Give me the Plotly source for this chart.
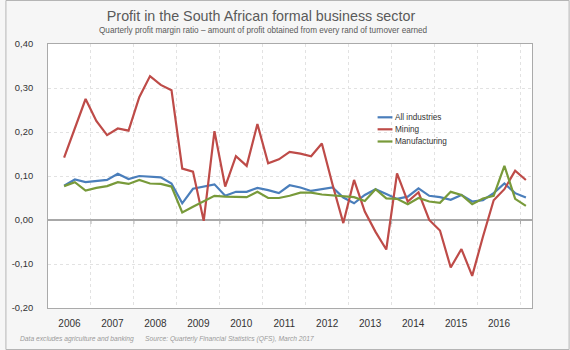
import plotly.graph_objects as go

# ---------------- data ----------------
years = list(range(2006, 2017))
quarters = [f"{y} Q{q}" for y in years for q in range(1, 5)]

all_industries = [0.078, 0.092, 0.086, 0.088, 0.091, 0.105, 0.093, 0.100, 0.098, 0.097, 0.083,
                  0.038, 0.071, 0.076, 0.081, 0.055, 0.064, 0.064, 0.073, 0.068, 0.061, 0.079,
                  0.074, 0.066, 0.070, 0.074, 0.051, 0.038, 0.057, 0.070, 0.059, 0.048, 0.053,
                  0.072, 0.055, 0.052, 0.046, 0.057, 0.042, 0.045, 0.061, 0.083, 0.061, 0.051]
mining = [0.142, 0.208, 0.275, 0.225, 0.193, 0.208, 0.203, 0.279, 0.327, 0.307, 0.295,
          0.117, 0.110, -0.002, 0.202, 0.076, 0.145, 0.123, 0.218, 0.129, 0.138, 0.155,
          0.151, 0.145, 0.174, 0.080, -0.007, 0.091, 0.019, -0.027, -0.067, 0.106, 0.042,
          0.063, 0.000, -0.024, -0.108, -0.066, -0.127, -0.038, 0.045, 0.070, 0.112, 0.091]
manufacturing = [0.077, 0.086, 0.067, 0.073, 0.077, 0.086, 0.082, 0.091, 0.083, 0.082, 0.076,
                 0.017, 0.030, 0.042, 0.055, 0.053, 0.053, 0.052, 0.064, 0.050, 0.050, 0.055,
                 0.062, 0.062, 0.058, 0.056, 0.053, 0.052, 0.043, 0.070, 0.049, 0.048, 0.036,
                 0.050, 0.042, 0.039, 0.064, 0.057, 0.036, 0.049, 0.055, 0.123, 0.048, 0.032]

series_names = ["All industries", "Mining", "Manufacturing"]
series_values = [all_industries, mining, manufacturing]
series_colors = ["#4a7ebb", "#be4b48", "#789a3a"]

y_ticks = [-0.2, -0.1, 0.0, 0.1, 0.2, 0.3, 0.4]
y_tick_labels = ["-0,20", "-0,10", "0,00", "0,10", "0,20", "0,30", "0,40"]

title = "Profit in the South African formal business sector"
subtitle = "Quarterly profit margin ratio \u2013 amount of profit obtained from every rand of turnover earned"
note = "Data excludes agriculture and banking"
source = "Source: Quarterly Financial Statistics (QFS), March 2017"

# ---------------- layout geometry ----------------
W, H = 570, 350
L, R, T, B = 43, 38, 44, 42
pw, ph = W - L - R, H - T - B
year_px = 43.4
x_min = years[0]
x_max = years[0] + pw / year_px

def px_x(p):
    return (p - L) / pw

def px_y(p):
    return 1 - (p - T) / ph

FONT = "Liberation Sans, Arial, sans-serif"

x_pos = [int(q[:4]) + (int(q[-1]) - 1) * 0.25 + 0.375 for q in quarters]

fig = go.Figure()
for name, vals, col in zip(series_names, series_values, series_colors):
    fig.add_trace(go.Scatter(
        x=x_pos, y=vals, name=name, mode="lines",
        line=dict(color=col, width=2.2),
        customdata=quarters,
        hovertemplate="%{customdata}<br>" + name + ": %{y:.3f}<extra></extra>",
        showlegend=False,
    ))

shapes = []
annotations = []

# tick marks on zero line at year boundaries
for yr in years[1:] + [years[-1] + 1]:
    shapes.append(dict(type="line", xref="x", yref="y", x0=yr, x1=yr,
                       ysizemode="pixel", yanchor=0, y0=0, y1=-4,
                       line=dict(color="#aaaaaa", width=1)))

# outer chart border
shapes.append(dict(type="rect", xref="paper", yref="paper",
                   x0=px_x(0.5), x1=px_x(W - 0.5), y0=px_y(H - 0.5), y1=px_y(0.5),
                   line=dict(color="#b5b5b5", width=1), layer="below"))

# manual legend
leg_y = [117.3, 129.3, 141.5]
for name, col, yy in zip(series_names, series_colors, leg_y):
    shapes.append(dict(type="line", xref="paper", yref="paper",
                       x0=px_x(376), x1=px_x(391), y0=px_y(yy), y1=px_y(yy),
                       line=dict(color=col, width=2.2)))
    annotations.append(dict(text=name, xref="paper", yref="paper",
                            x=px_x(391.5), y=px_y(yy), xanchor="left", yanchor="middle",
                            showarrow=False, font=dict(family=FONT, size=8.2, color="#333333")))

# subtitle
annotations.append(dict(text=subtitle, xref="paper", yref="paper",
                        x=px_x(261), y=px_y(30.5), xanchor="center", yanchor="middle",
                        showarrow=False, font=dict(family=FONT, size=8.2, color="#5a5a5a")))
# footer
annotations.append(dict(text="<i>" + note + "</i>", xref="paper", yref="paper",
                        x=px_x(12.5), y=px_y(339), xanchor="left", yanchor="middle",
                        showarrow=False, font=dict(family=FONT, size=6.7, color="#9a9a9a")))
annotations.append(dict(text="<i>" + source + "</i>", xref="paper", yref="paper",
                        x=px_x(138.5), y=px_y(339), xanchor="left", yanchor="middle",
                        showarrow=False, font=dict(family=FONT, size=6.7, color="#9a9a9a")))

fig.update_layout(
    width=W, height=H,
    margin=dict(l=L, r=R, t=T, b=B, pad=0),
    paper_bgcolor="#f6f6f6",
    plot_bgcolor="#ffffff",
    title=dict(text=title, x=261 / W, xref="container", xanchor="center",
               y=1 - 16 / H, yref="container", yanchor="middle",
               font=dict(family=FONT, size=14.3, color="#5a5a5a")),
    shapes=shapes,
    annotations=annotations,
    showlegend=False,
    xaxis=dict(
        range=[x_min, x_max],
        tickmode="array",
        tickvals=[y + 0.5 for y in years],
        ticktext=[str(y) for y in years],
        ticks="", showgrid=False, zeroline=False,
        showline=True, mirror=True, linecolor="#aaaaaa", linewidth=1,
        tickfont=dict(family=FONT, size=10, color="#333333"),
        ticklabelstandoff=6,
        minor=dict(tickmode="array", tickvals=years[1:] + [years[-1] + 1],
                   showgrid=True, gridcolor="#e2e2e2", griddash="dot", gridwidth=1, ticks=""),
        fixedrange=True,
    ),
    yaxis=dict(
        range=[-0.2, 0.4],
        tickmode="array", tickvals=y_ticks, ticktext=y_tick_labels,
        ticks="", showgrid=True, gridcolor="#e2e2e2", griddash="dot", gridwidth=1,
        zeroline=True, zerolinecolor="#a8a8a8", zerolinewidth=1.5,
        showline=True, mirror=True, linecolor="#aaaaaa", linewidth=1,
        tickfont=dict(family=FONT, size=9.4, color="#333333"),
        ticklabelstandoff=12,
        fixedrange=True,
    ),
)

fig.write_html("out.html")
